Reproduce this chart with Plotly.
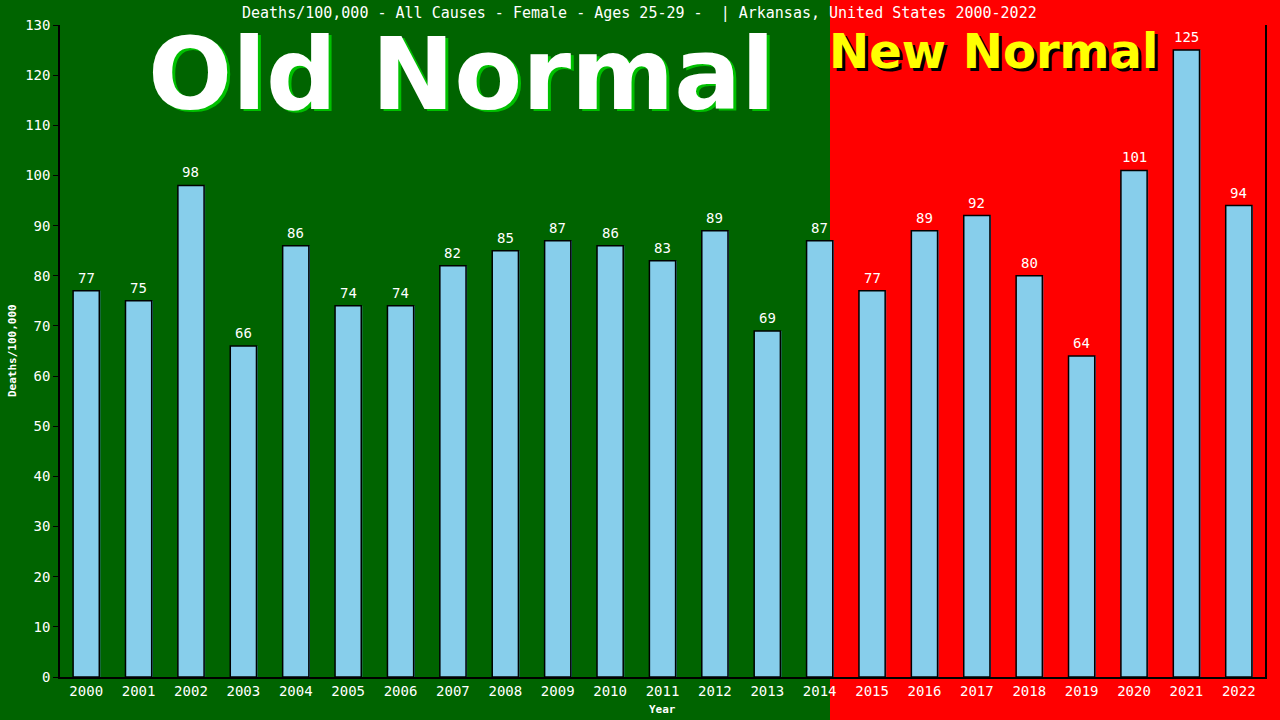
import plotly.graph_objects as go

years = [str(y) for y in range(2000, 2023)]
deaths = [77, 75, 98, 66, 86, 74, 74, 82, 85, 87, 86, 83, 89, 69, 87,
          77, 89, 92, 80, 64, 101, 125, 94]
y_ticks = list(range(0, 131, 10))

title_text = "Deaths/100,000 - All Causes - Female - Ages 25-29 -  | Arkansas, United States 2000-2022"
MONO = "DejaVu Sans Mono"
GREEN = "#006400"
RED = "#ff0000"
BAR = "#87ceeb"

fig = go.Figure()

# subtle blue shadow behind bars
fig.add_trace(go.Bar(
    x=years, y=deaths, width=0.5, offset=-0.23,
    marker=dict(color="#4682b4", line=dict(width=0)),
    hoverinfo="skip", showlegend=False,
))
fig.add_trace(go.Bar(
    x=years, y=deaths, width=0.5, offset=-0.25,
    marker=dict(color=BAR, line=dict(color="black", width=1.5)),
    showlegend=False,
))

annotations = []
for i, v in enumerate(deaths):
    annotations.append(dict(
        x=i, y=v, xref="x", yref="y", text=str(v), showarrow=False,
        yanchor="bottom", yshift=3,
        font=dict(family=MONO, size=14, color="white"),
    ))

# big labels with shadows
annotations += [
    dict(x=0.3335, y=1.0, xref="paper", yref="paper", text="Old Normal",
         showarrow=False, xanchor="center", yanchor="top", xshift=3, yshift=10 - 2,
         font=dict(family="DejaVu Sans", size=99, color="#00c000", weight="bold")),
    dict(x=0.3335, y=1.0, xref="paper", yref="paper", text="Old Normal",
         showarrow=False, xanchor="center", yanchor="top", yshift=10,
         font=dict(family="DejaVu Sans", size=99, color="white", weight="bold")),
    dict(x=0.775, y=1.0, xref="paper", yref="paper", text="New Normal",
         showarrow=False, xanchor="center", yanchor="top", xshift=3, yshift=4 - 3,
         font=dict(family="DejaVu Sans", size=48, color="black", weight="bold")),
    dict(x=0.775, y=1.0, xref="paper", yref="paper", text="New Normal",
         showarrow=False, xanchor="center", yanchor="top", yshift=4,
         font=dict(family="DejaVu Sans", size=48, color="#ffff00", weight="bold")),
    dict(x=0.4813, y=1.0, xref="paper", yref="paper", yshift=12,
         text=title_text, showarrow=False, yanchor="middle",
         font=dict(family=MONO, size=15, color="white")),
    dict(x=-0.0398, y=0.5, xref="paper", yref="paper", text="<b>Deaths/100,000</b>",
         textangle=-90, showarrow=False, xanchor="center", yanchor="middle",
         font=dict(family=MONO, size=11, color="white")),
    dict(x=0.5, y=0, xref="paper", yref="paper", text="<b>Year</b>",
         showarrow=False, xanchor="center", yanchor="middle", yshift=-32,
         font=dict(family=MONO, size=11, color="white")),
]

shapes = [
    dict(type="rect", xref="paper", yref="paper", x0=0.639, x1=1.1, y0=-0.2, y1=1.1,
         fillcolor=RED, line=dict(width=0), layer="below"),
]

fig.update_layout(
    width=1280, height=720,
    margin=dict(l=60, r=15, t=25, b=43),
    paper_bgcolor=GREEN, plot_bgcolor="rgba(0,0,0,0)",
    barmode="overlay", bargap=0.5,
    showlegend=False,
    annotations=annotations, shapes=shapes,
    xaxis=dict(type="category", range=[-0.5, len(years) - 0.5], showgrid=False,
               showline=True, linecolor="black",
               linewidth=1.5, ticks="", tickfont=dict(family=MONO, size=14, color="white"),
               zeroline=False, fixedrange=True),
    yaxis=dict(range=[0, 130], tickvals=y_ticks, showgrid=False, showline=True,
               linecolor="black", linewidth=1.5, mirror=True, ticks="outside",
               ticklen=5, tickcolor="black",
               tickfont=dict(family=MONO, size=14, color="white"), zeroline=False,
               fixedrange=True),
)

fig.write_html("out.html", config={"displayModeBar": False},
               post_script="document.body.style.margin='0';document.body.style.overflow='hidden';")
